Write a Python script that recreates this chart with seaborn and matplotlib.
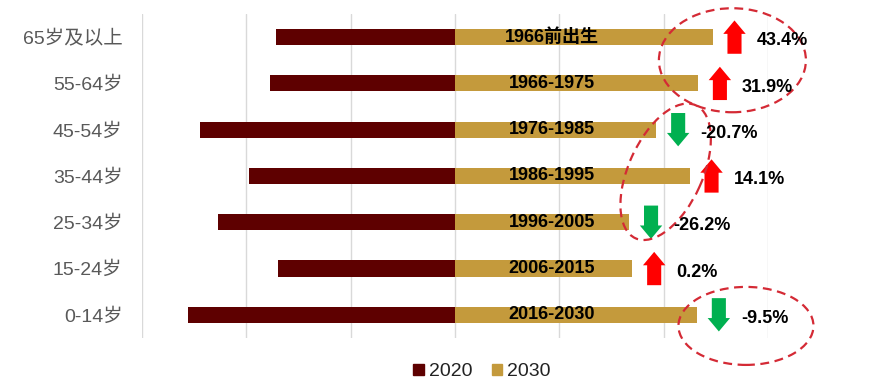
import pandas as pd
import seaborn as sns
import matplotlib.pyplot as plt
from matplotlib.patches import Ellipse, Patch
from matplotlib import transforms

# data
age_groups = ['65岁及以上', '55-64岁', '45-54岁', '35-44岁', '25-34岁', '15-24岁', '0-14岁']
cohorts = ['1966前出生', '1966-1975', '1976-1985', '1986-1995', '1996-2005', '2006-2015', '2016-2030']
pop_2020 = [1.72, 1.77, 2.44, 1.97, 2.27, 1.70, 2.56]
pop_2030 = [2.47, 2.33, 1.93, 2.25, 1.67, 1.70, 2.32]
change_pct = [43.4, 31.9, -20.7, 14.1, -26.2, 0.2, -9.5]

c2020 = '#5E0000'
c2030 = '#C49A3C'
ring_col = '#D42A35'

sns.set_style('white')
plt.rcParams['font.family'] = ['Liberation Sans', 'Noto Sans CJK SC']

fig, ax = plt.subplots(figsize=(8.96, 3.88), dpi=100)
fig.subplots_adjust(left=0.1585, right=0.857, top=0.964, bottom=0.129)

df = pd.DataFrame({'age': age_groups,
                   'v2020': [-v for v in pop_2020],
                   'v2030': pop_2030})

sns.barplot(data=df, x='v2020', y='age', color=c2020, width=0.35, saturation=1,
            errorbar=None, linewidth=0, orient='h', ax=ax)
sns.barplot(data=df, x='v2030', y='age', color=c2030, width=0.35, saturation=1,
            errorbar=None, linewidth=0, orient='h', ax=ax)

ax.set_xlim(-3, 3)
ax.set_ylim(len(age_groups) - 0.5, -0.5)
ax.set_xticks(range(-3, 4))
ax.grid(axis='x', color='#D9D9D9', lw=1)
ax.set_axisbelow(True)
ax.tick_params(axis='x', labelbottom=False, length=0)
ax.tick_params(axis='y', length=0, pad=14, labelsize=14, labelcolor='#595959')
ax.set_xlabel('')
ax.set_ylabel('')
sns.despine(ax=ax, left=True, bottom=True)

# cohort names inside the 2030 bars
for i, name in enumerate(cohorts):
    ax.text(0.93, i, name, ha='center', va='center', fontsize=13,
            fontweight='bold', color='black')

# arrows + change labels
for i, (v, p) in enumerate(zip(pop_2030, change_pct)):
    x = v + 0.21
    if p > 0:
        ax.arrow(x, i + 0.36, 0, -0.72, width=0.135, head_width=0.215,
                 head_length=0.29, length_includes_head=True, color='#FF0000', lw=0)
    else:
        ax.arrow(x, i - 0.36, 0, 0.72, width=0.135, head_width=0.215,
                 head_length=0.29, length_includes_head=True, color='#00B050', lw=0)
    ax.text(v + 0.42, i + 0.08, f'{p:.1f}%', ha='left', va='center',
            fontsize=13, fontweight='bold', color='black')


def ring(x, y, w, h, ang=0):
    tr = fig.dpi_scale_trans + transforms.ScaledTranslation(x, y, ax.transData)
    e = Ellipse((0, 0), w, h, angle=ang, transform=tr, fill=False,
                ec=ring_col, lw=1.6, ls=(0, (4, 2.5)), clip_on=False)
    ax.add_artist(e)


ring(2.66, 0.5, 1.47, 1.04)
ring(2.02, 2.91, 1.46, 0.74, 65.6)
ring(2.79, 6.24, 1.35, 0.78)

handles = [Patch(color=c2020, label='2020'), Patch(color=c2030, label='2030')]
fig.legend(handles=handles, loc='center', bbox_to_anchor=(482 / 896, 1 - 372 / 388),
           ncol=2, frameon=False, fontsize=14, handlelength=0.55, handleheight=0.55,
           handletextpad=0.25, columnspacing=1.0, labelcolor='#222222')

fig.savefig('out.png', dpi=100)
